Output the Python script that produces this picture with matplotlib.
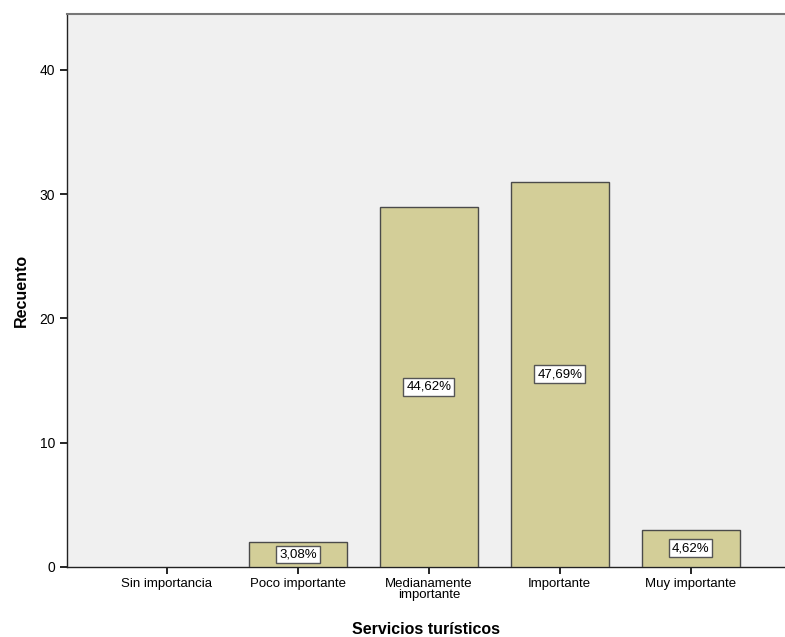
import matplotlib.pyplot as plt
import numpy as np

plt.rcParams['font.family'] = ['Liberation Sans', 'DejaVu Sans']

# --- Data ------------------------------------------------------------
categories = ['Sin importancia', 'Poco importante', 'Medianamente\nimportante',
              'Importante', 'Muy importante']
counts = [0, 2, 29, 31, 3]
pct_labels = ['', '3,08%', '44,62%', '47,69%', '4,62%']

BAR = '#D3CE98'
BG = '#F0F0F0'
EDGE = '#4a4a4a'

fig = plt.figure(figsize=(7.85, 6.37), dpi=100)
ax = fig.add_axes([0.0854, 0.110, 0.9146, 0.868])
ax.set_facecolor(BG)

x = np.arange(len(categories))
bars = ax.bar(x, counts, width=0.75, color=BAR, edgecolor=EDGE, linewidth=1.0, zorder=3)
# empty category: no visible outline
for b, c in zip(bars, counts):
    if c == 0:
        b.set_linewidth(0)

for xi, c, lbl in zip(x, counts, pct_labels):
    if not lbl:
        continue
    ax.text(xi, c / 2, lbl, ha='center', va='center', fontsize=9.5, zorder=4,
            bbox=dict(boxstyle='square,pad=0.22', facecolor='white',
                      edgecolor='#555555', linewidth=1.0))

ax.set_xlim(-0.763, 4.72)
ax.set_ylim(0, 44.5)
ax.set_yticks([0, 10, 20, 30, 40])
ax.set_xticks(x)
ax.set_xticklabels(categories, fontsize=9.5, linespacing=0.9)
ax.tick_params(axis='y', labelsize=10, length=5, width=1.2, direction='out')
ax.tick_params(axis='x', length=5, width=1.2, direction='out', pad=3)

ax.spines['right'].set_visible(False)
ax.spines['top'].set_color('#777777')
ax.spines['top'].set_linewidth(1.5)
ax.spines['left'].set_color('#222222')
ax.spines['bottom'].set_color('#222222')
ax.spines['left'].set_linewidth(1.0)
ax.spines['bottom'].set_linewidth(1.0)

ax.set_ylabel('Recuento', fontsize=11.5, fontweight='bold', labelpad=8)
ax.set_xlabel('Servicios turísticos', fontsize=11.5, fontweight='bold', labelpad=15)

fig.savefig('out.png', dpi=100, facecolor='white')
